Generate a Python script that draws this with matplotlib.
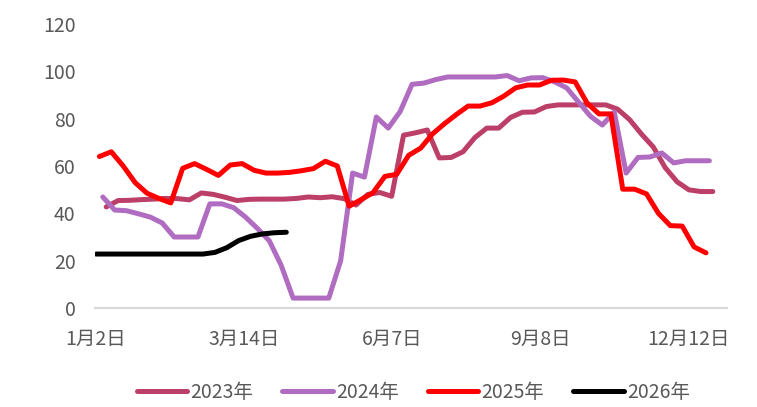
import matplotlib
matplotlib.use("Agg")
import matplotlib.pyplot as plt
import numpy as np

plt.rcParams['font.family'] = ['Noto Sans CJK SC', 'DejaVu Sans']

# weekly values, one point per week
v2023 = [42.7, 45.4, 45.5, 45.8, 46, 46.3, 46.2, 45.7, 48.6, 48, 46.8, 45.4, 45.9, 46, 46, 46,
         46.3, 46.9, 46.6, 47, 46.2, 43.5, 48, 48.8, 47.2, 73, 74, 75.2, 63.4, 63.6, 66, 72,
         76, 76, 80.5, 82.7, 82.8, 85.1, 85.8, 85.8, 85.8, 85.8, 85.8, 84, 79.6, 73.5, 68, 59.3,
         53.3, 49.9, 49.2, 49.2]
v2024 = [46.9, 41.4, 41.1, 39.8, 38.4, 35.9, 30, 30, 30, 44, 44, 42.4, 38.4, 33.6, 28.4, 18,
         4.2, 4.2, 4.2, 4.2, 20, 57, 55.3, 80.7, 76, 83, 94.5, 95, 96.5, 97.6, 97.6, 97.6,
         97.6, 97.6, 98.2, 96, 97.2, 97.3, 95.5, 93, 87, 81, 77.3, 82.8, 57, 63.6, 63.8, 65.5,
         61.3, 62.2, 62.2, 62.2]
v2025 = [64, 66, 60, 53, 48.5, 46.3, 44.4, 59, 61, 58.6, 56, 60.4, 61, 58.2, 57, 57,
         57.3, 58, 58.9, 62, 60, 43, 45.8, 48.7, 55.6, 56.5, 64.5, 67.5, 73.5, 77.8, 81.7, 85.3,
         85.3, 86.7, 89.5, 93, 94.2, 94.2, 96.2, 96.3, 95.5, 86.6, 82, 82, 50.2, 50.2, 48.2, 40,
         34.8, 34.6, 25.8, 23.3]
v2026 = [22.8, 22.8, 22.8, 22.8, 22.8, 22.8, 22.8, 22.8, 22.8, 22.8, 23.5, 25.5, 28.5, 30.3,
         31.3, 31.8, 32]

# day of year of the first weekly point
first_day = {'2023年': 7, '2024年': 5, '2025年': 3, '2026年': 1}

tick_labels = ['1月2日', '3月14日', '6月7日', '9月8日', '12月12日']

series = [('2023年', v2023, '#BC3F68'),
          ('2024年', v2024, '#B06CC0'),
          ('2025年', v2025, '#FF0000'),
          ('2026年', v2026, '#000000')]

fig = plt.figure(figsize=(7.57, 4.07), dpi=100)
ax = fig.add_axes([0.1255, 0.2432, 0.8345, 0.698])

for name, vals, col in series:
    x = first_day[name] + 7 * np.arange(len(vals))
    ax.plot(x, vals, color=col, lw=3.6, label=name,
            solid_capstyle='round', solid_joinstyle='round')

ax.set_xlim(0.41, 372.2)
ax.set_ylim(0, 120)
ax.set_yticks(np.arange(0, 121, 20))
ax.set_xticks(np.linspace(1, 350, 5))
ax.set_xticklabels(tick_labels)

for s in ['top', 'right', 'left']:
    ax.spines[s].set_visible(False)
ax.spines['bottom'].set_color('#D9D9D9')
ax.spines['bottom'].set_linewidth(1.5)
ax.tick_params(axis='both', length=0, labelsize=14, labelcolor='#595959')
ax.tick_params(axis='y', pad=14)
ax.tick_params(axis='x', pad=15)

fig.legend(loc='center', bbox_to_anchor=(0.546, 0.035), ncol=4, frameon=False,
           fontsize=14, handlelength=2.6, handletextpad=0.15, columnspacing=1.5,
           labelcolor='#595959')

fig.savefig('out.png', dpi=100)
